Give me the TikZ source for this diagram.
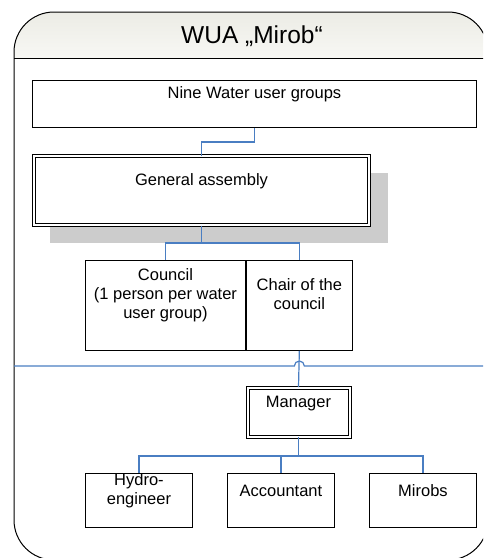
\documentclass[tikz,border=0pt]{standalone}
\usepackage{fontspec}
\setmainfont{Liberation Sans}
\usetikzlibrary{calc, shadows}

\definecolor{linkblue}{RGB}{74,126,194}
\definecolor{headfill}{RGB}{236,236,229}
\definecolor{shadowgray}{RGB}{204,204,204}

\begin{document}
\begin{tikzpicture}[
      x=1pt, y=-1pt,
      font=\fontsize{16.5}{19}\selectfont,
      unit/.style={draw, line width=0.9pt, inner sep=0pt, align=center, anchor=north west},
      lead unit/.style={unit, fill=white, line width=1pt, double, double distance=2pt},
      org link/.style={linkblue, line width=1.2pt},
      frame/.style={line width=1pt, rounded corners=40pt}
      ]
      \useasboundingbox (0,0) rectangle (483,558);
      \clip (0,0) rectangle (483,558);
      % frame
      \begin{scope}
        \clip[rounded corners=40pt] (14,12) rectangle (488,560);
        \shade[top color=headfill, bottom color=headfill!40] (14,12) rectangle (488,58.5);
      \end{scope}
      \draw[frame] (14,12) rectangle (488,560);
      \draw[line width=1pt] (14,58.5) -- (488,58.5);
      \node[font=\fontsize{24.5}{29}\selectfont, anchor=base] (title) at (252,43.3) {WUA „Mirob“};
      % units
      \node[unit, minimum width=444pt, text height=18.5pt, text depth=28.5pt] (groups) at (32,80) {Nine Water user groups};
      \node[lead unit, general shadow={fill=shadowgray, shadow xshift=17.5pt, shadow yshift=-17.5pt, shadow scale=1.008},
            minimum width=335pt, text height=29.5pt, text depth=39.5pt] (assembly) at (33.5,155.5) {General assembly};
      \node[unit, minimum width=160pt, text height=58pt, text depth=32pt] (council) at (85,260) {Council\\(1 person per water\\user group)};
      \node[unit, minimum width=106pt, text height=49pt, text depth=41pt] (chair) at (council.north east) {Chair of the\\council};
      \node[lead unit, minimum width=102pt, text height=19.5pt, text depth=29.5pt] (manager) at (247,387) {Manager};
      % staff
      \node[unit, minimum width=107pt, text height=31.5pt, text depth=22.5pt] (hydro) at (85,473) {Hydro-\\engineer};
      \node[unit, minimum width=107pt, text height=23pt, text depth=31pt] (accountant) at (227,473) {Accountant};
      \node[unit, minimum width=107pt, text height=23pt, text depth=31pt] (mirobs) at (369,473) {Mirobs};
      % divider with hop
      \coordinate (div west) at (14,366);
      \coordinate (div east) at (488,366);
      \draw[org link] (div west) -- ($(chair.south |- div west)+(-5,0)$) arc[start angle=180, end angle=0, radius=5pt] -- (div east);
      % links
      \draw[org link] (groups.south) -- ++(0,14) -| (assembly.north);
      \draw[org link] (assembly.south) -- ++(0,17.5) -| (council.north);
      \draw[org link] (assembly.south) -- ++(0,17.5) -| (chair.north);
      \draw[org link] (chair.south) -- (manager.north);
      \foreach \s in {hydro,accountant,mirobs} {
          \draw[org link] (manager.south) -- ++(0,19) -| (\s.north);
      }
\end{tikzpicture}
\end{document}
